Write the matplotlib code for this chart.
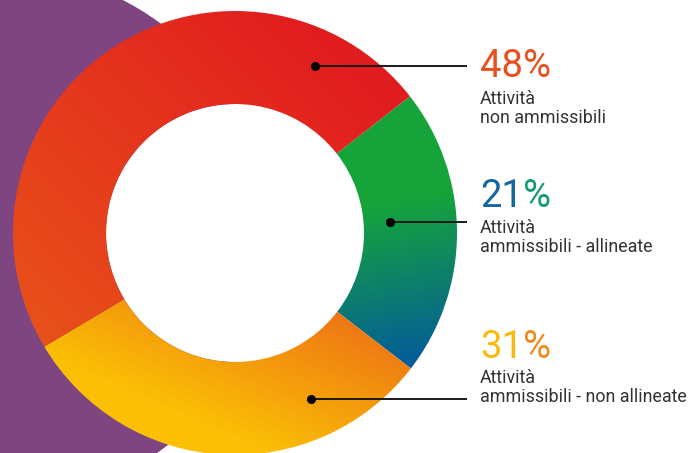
import numpy as np
import matplotlib
matplotlib.use("Agg")
import matplotlib.pyplot as plt
from matplotlib.colors import to_rgb
from matplotlib.patches import Circle

# ---------------- data ----------------
values = [21, 31, 48]
pct_main = ["21", "31", "48"]
descriptions = ["Attività\nammissibili - allineate",
                "Attività\nammissibili - non allineate",
                "Attività\nnon ammissibili"]
# gradient colours per slice (start, end)
grad_colors = [("#16A43A", "#055E98"),
               ("#EC6D16", "#FBBF05"),
               ("#E11C1F", "#E8501A")]
pct_colors = [("#1466A0", "#169A78"),
              ("#FBB90E", "#F08A1A"),
              ("#E8501E", "#E8501E")]

W, H = 694, 453
fig = plt.figure(figsize=(W / 100, H / 100), dpi=100)
ax = fig.add_axes([0, 0, 1, 1])


def Y(yp):
    return H - yp


# background purple circle
ax.add_patch(Circle((2, Y(237)), 266, color="#7F4580", zorder=0, lw=0))

center = (235, Y(233))
R = 222
HOLE = 129
# white hole of the donut
ax.add_patch(Circle(center, HOLE, color="white", zorder=1, lw=0))

wedges, _ = ax.pie(values, radius=R, center=center, startangle=38,
                   counterclock=False,
                   wedgeprops=dict(width=R - HOLE, lw=0, edgecolor="none"))

# gradient endpoints in pixel coords (x, y from top)
grad_pts = [((375, 205), (405, 360)),
            ((405, 320), (335, 480)),
            ((330, 40), (40, 330))]

xs = np.arange(W) + 0.5
ys = np.arange(H) + 0.5
XX, YY = np.meshgrid(xs, ys)
for w, (c0, c1), (p0, p1) in zip(wedges, grad_colors, grad_pts):
    x0, y0 = p0[0], Y(p0[1])
    x1, y1 = p1[0], Y(p1[1])
    dx, dy = x1 - x0, y1 - y0
    t = ((XX - x0) * dx + (YY - y0) * dy) / (dx * dx + dy * dy)
    t = np.clip(t, 0, 1)[..., None]
    img = (1 - t) * np.array(to_rgb(c0)) + t * np.array(to_rgb(c1))
    w.set_facecolor(to_rgb(c0))
    w.set_alpha(0)
    im = ax.imshow(img, extent=(0, W, 0, H), origin="lower", zorder=2,
                   interpolation="nearest")
    im.set_clip_path(w)

# annotations (dots + leader lines), pixel positions
dots = [(390, 222), (311, 399), (315, 66)]
line_end = 467
text_x = 480
pct_base = [207, 357.5, 77]
desc_base = [233.3, 383.3, 104]

for i in range(3):
    dx_, dy_ = dots[i]
    ax.plot([dx_, line_end], [Y(dy_), Y(dy_)], color="#1a1a1a", lw=1.4,
            zorder=5, solid_capstyle="butt")
    ax.plot([dx_], [Y(dy_)], "o", color="black", ms=5.5, zorder=6)
    t1 = ax.text(text_x, Y(pct_base[i]), pct_main[i], fontsize=27.5,
                 family="Roboto", fontweight="normal", color=pct_colors[i][0],
                 va="baseline", ha="left", zorder=7)
    ax.annotate("%", xy=(1, 0), xycoords=t1, fontsize=27.5, family="Roboto",
                fontweight="normal", color=pct_colors[i][1], va="bottom",
                ha="left", zorder=7)
    ax.text(text_x, Y(desc_base[i]), descriptions[i].split("\n")[0],
            fontsize=12.9, family="Roboto", color="#333333", va="baseline",
            ha="left", zorder=7)
    ax.text(text_x, Y(desc_base[i] + 19.2), descriptions[i].split("\n")[1],
            fontsize=12.9, family="Roboto", color="#333333", va="baseline",
            ha="left", zorder=7)

ax.set_xlim(0, W)
ax.set_ylim(0, H)
ax.set_aspect("equal")
ax.axis("off")
fig.savefig("out.png", dpi=100)
